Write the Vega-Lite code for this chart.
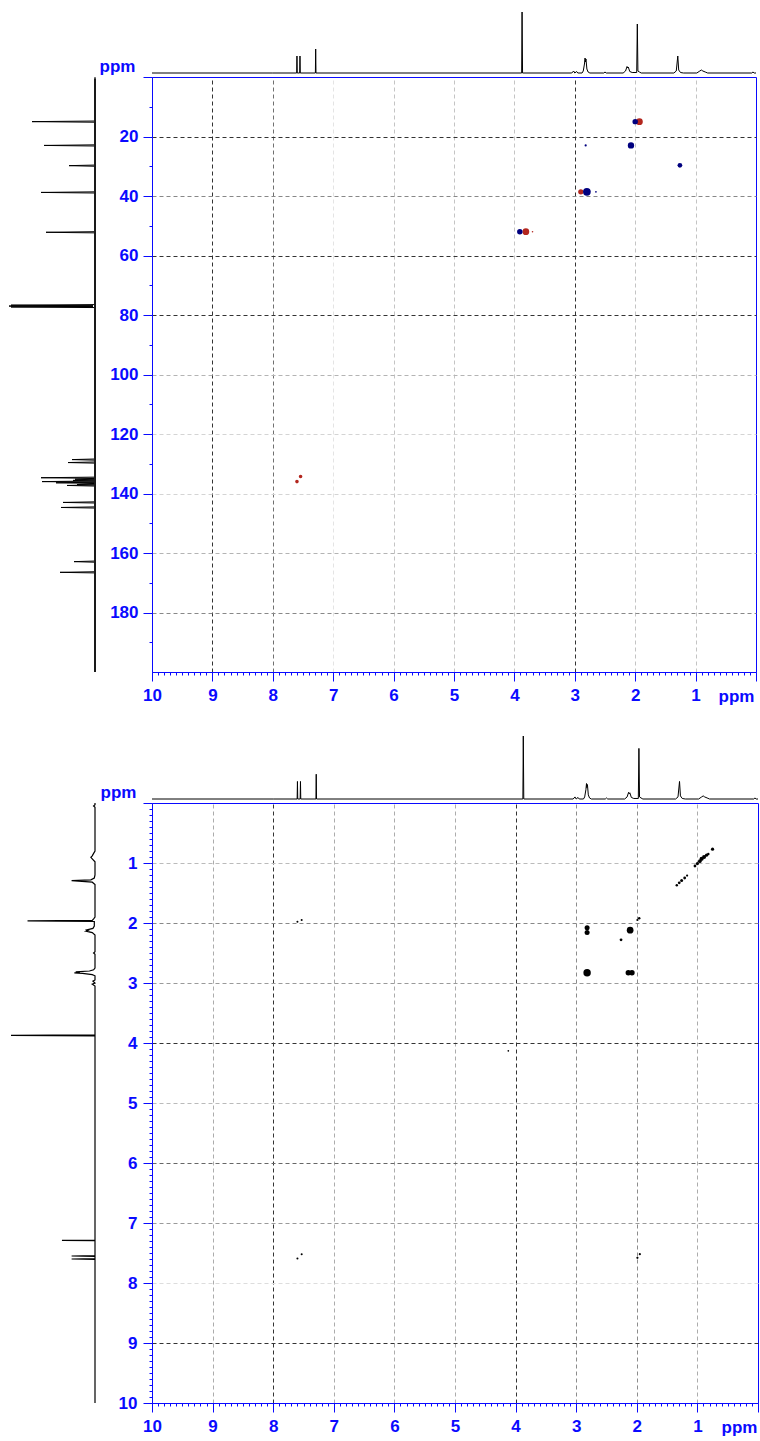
{
  "$schema": "https://vega.github.io/schema/vega-lite/v6.json",
  "padding": {"left": 6, "top": 9, "right": 0, "bottom": 0},
  "background": "white",
  "datasets": {
    "h1": [
      {"ppm": 10, "i": 0}, {"ppm": 8.0, "i": 0}, {"ppm": 7.605, "i": 0}, {"ppm": 7.6, "i": 17}, {"ppm": 7.595, "i": 0},
      {"ppm": 7.555, "i": 0}, {"ppm": 7.55, "i": 17}, {"ppm": 7.545, "i": 0}, {"ppm": 7.295, "i": 0}, {"ppm": 7.29, "i": 24},
      {"ppm": 7.285, "i": 0}, {"ppm": 5.0, "i": 0}, {"ppm": 3.88, "i": 0}, {"ppm": 3.873, "i": 61}, {"ppm": 3.865, "i": 0},
      {"ppm": 3.05, "i": 0}, {"ppm": 3.02, "i": 2}, {"ppm": 3.0, "i": 0}, {"ppm": 2.97, "i": 1.5}, {"ppm": 2.95, "i": 0},
      {"ppm": 2.88, "i": 0}, {"ppm": 2.86, "i": 2}, {"ppm": 2.84, "i": 9}, {"ppm": 2.83, "i": 15}, {"ppm": 2.825, "i": 11},
      {"ppm": 2.815, "i": 14}, {"ppm": 2.8, "i": 4}, {"ppm": 2.78, "i": 1}, {"ppm": 2.75, "i": 0}, {"ppm": 2.52, "i": 0},
      {"ppm": 2.5, "i": 1}, {"ppm": 2.48, "i": 0}, {"ppm": 2.2, "i": 0}, {"ppm": 2.16, "i": 2}, {"ppm": 2.135, "i": 6.5},
      {"ppm": 2.125, "i": 5}, {"ppm": 2.115, "i": 6}, {"ppm": 2.09, "i": 1.5}, {"ppm": 2.05, "i": 0.5}, {"ppm": 1.975, "i": 0.5},
      {"ppm": 1.965, "i": 49}, {"ppm": 1.955, "i": 2}, {"ppm": 1.93, "i": 1}, {"ppm": 1.9, "i": 0}, {"ppm": 1.36, "i": 0},
      {"ppm": 1.32, "i": 2}, {"ppm": 1.295, "i": 17}, {"ppm": 1.28, "i": 3}, {"ppm": 1.25, "i": 0.5}, {"ppm": 1.2, "i": 0},
      {"ppm": 0.98, "i": 0}, {"ppm": 0.93, "i": 2}, {"ppm": 0.905, "i": 3}, {"ppm": 0.88, "i": 2}, {"ppm": 0.84, "i": 1},
      {"ppm": 0.8, "i": 0}, {"ppm": 0.07, "i": 0}, {"ppm": 0.05, "i": 1}, {"ppm": 0.03, "i": 0}, {"ppm": 0, "i": 0}
    ],
    "c13": [
      {"ppm": 0, "i": 0}, {"ppm": 14.8, "i": 0}, {"ppm": 15.0, "i": 63}, {"ppm": 15.2, "i": 0},
      {"ppm": 22.8, "i": 0}, {"ppm": 23.0, "i": 51}, {"ppm": 23.2, "i": 0},
      {"ppm": 29.6, "i": 0}, {"ppm": 29.8, "i": 26}, {"ppm": 30.0, "i": 0},
      {"ppm": 38.6, "i": 0}, {"ppm": 38.8, "i": 54}, {"ppm": 39.0, "i": 0},
      {"ppm": 52.0, "i": 0}, {"ppm": 52.2, "i": 49}, {"ppm": 52.4, "i": 0},
      {"ppm": 76.5, "i": 0}, {"ppm": 76.7, "i": 84}, {"ppm": 76.9, "i": 2}, {"ppm": 77.0, "i": 86}, {"ppm": 77.2, "i": 2}, {"ppm": 77.3, "i": 84}, {"ppm": 77.5, "i": 0},
      {"ppm": 128.4, "i": 0}, {"ppm": 128.6, "i": 23}, {"ppm": 128.8, "i": 0},
      {"ppm": 129.4, "i": 0}, {"ppm": 129.6, "i": 27}, {"ppm": 129.8, "i": 0},
      {"ppm": 134.5, "i": 0}, {"ppm": 134.7, "i": 54}, {"ppm": 134.9, "i": 0}, {"ppm": 135.2, "i": 20}, {"ppm": 135.4, "i": 0},
      {"ppm": 135.6, "i": 22}, {"ppm": 135.8, "i": 0}, {"ppm": 136.0, "i": 53}, {"ppm": 136.2, "i": 0}, {"ppm": 136.4, "i": 39},
      {"ppm": 136.6, "i": 0}, {"ppm": 137.0, "i": 18}, {"ppm": 137.1, "i": 0}, {"ppm": 137.3, "i": 28}, {"ppm": 137.5, "i": 0},
      {"ppm": 142.8, "i": 0}, {"ppm": 143.0, "i": 32}, {"ppm": 143.2, "i": 0},
      {"ppm": 144.5, "i": 0}, {"ppm": 144.7, "i": 34}, {"ppm": 144.9, "i": 0},
      {"ppm": 162.7, "i": 0}, {"ppm": 162.9, "i": 21}, {"ppm": 163.1, "i": 0},
      {"ppm": 166.3, "i": 0}, {"ppm": 166.5, "i": 35}, {"ppm": 166.7, "i": 0},
      {"ppm": 200, "i": 0}
    ],
    "hsqc": [
      {"h": 1.93, "c": 15.0, "sign": "-", "vol": 75},
      {"h": 2.9, "c": 38.6, "sign": "-", "vol": 47},
      {"h": 3.81, "c": 52.0, "sign": "-", "vol": 75},
      {"h": 3.7, "c": 52.0, "sign": "-", "vol": 4},
      {"h": 7.6, "c": 136.0, "sign": "-", "vol": 22},
      {"h": 7.54, "c": 134.3, "sign": "-", "vol": 22},
      {"h": 2.0, "c": 15.0, "sign": "+", "vol": 50},
      {"h": 2.07, "c": 23.0, "sign": "+", "vol": 67},
      {"h": 2.82, "c": 23.0, "sign": "+", "vol": 8},
      {"h": 1.26, "c": 29.7, "sign": "+", "vol": 37},
      {"h": 2.8, "c": 38.6, "sign": "+", "vol": 100},
      {"h": 2.65, "c": 38.6, "sign": "+", "vol": 5},
      {"h": 3.91, "c": 52.0, "sign": "+", "vol": 50}
    ],
    "cosy": [
      {"h": 0.75, "v": 0.77, "vol": 17}, {"h": 1.04, "v": 1.05, "vol": 13}, {"h": 1.0, "v": 1.01, "vol": 17},
      {"h": 0.96, "v": 0.97, "vol": 23}, {"h": 0.93, "v": 0.93, "vol": 30}, {"h": 0.89, "v": 0.9, "vol": 27},
      {"h": 0.85, "v": 0.87, "vol": 17}, {"h": 0.82, "v": 0.85, "vol": 10}, {"h": 1.34, "v": 1.37, "vol": 10},
      {"h": 1.3, "v": 1.33, "vol": 13}, {"h": 1.26, "v": 1.29, "vol": 15}, {"h": 1.21, "v": 1.25, "vol": 13},
      {"h": 1.17, "v": 1.21, "vol": 8}, {"h": 1.99, "v": 1.95, "vol": 8}, {"h": 1.96, "v": 1.92, "vol": 10},
      {"h": 2.26, "v": 2.28, "vol": 13}, {"h": 2.82, "v": 2.08, "vol": 42}, {"h": 2.82, "v": 2.16, "vol": 42},
      {"h": 2.11, "v": 2.12, "vol": 75}, {"h": 2.82, "v": 2.83, "vol": 92}, {"h": 2.14, "v": 2.83, "vol": 50},
      {"h": 2.08, "v": 2.83, "vol": 50}, {"h": 7.6, "v": 1.98, "vol": 7}, {"h": 7.53, "v": 1.95, "vol": 7},
      {"h": 7.6, "v": 7.59, "vol": 7}, {"h": 7.53, "v": 7.52, "vol": 7}, {"h": 1.99, "v": 7.58, "vol": 8},
      {"h": 1.95, "v": 7.52, "vol": 8}, {"h": 4.12, "v": 4.13, "vol": 5}
    ]
  },
  "vconcat": [
    {
      "width": 604,
      "height": 595,
      "layer": [
        {
          "data": {"name": "hsqc"},
          "mark": {"type": "point", "filled": true, "opacity": 1, "shape": "circle"},
          "encoding": {
            "x": {
              "field": "h", "type": "quantitative",
              "scale": {"domain": [10, 0], "nice": false, "zero": false},
              "axis": {
                "values": [0,0.1,0.2,0.3,0.4,0.5,0.6,0.7,0.8,0.9,1,1.1,1.2,1.3,1.4,1.5,1.6,1.7,1.8,1.9,2,2.1,2.2,2.3,2.4,2.5,2.6,2.7,2.8,2.9,3,3.1,3.2,3.3,3.4,3.5,3.6,3.7,3.8,3.9,4,4.1,4.2,4.3,4.4,4.5,4.6,4.7,4.8,4.9,5,5.1,5.2,5.3,5.4,5.5,5.6,5.7,5.8,5.9,6,6.1,6.2,6.3,6.4,6.5,6.6,6.7,6.8,6.9,7,7.1,7.2,7.3,7.4,7.5,7.6,7.7,7.8,7.9,8,8.1,8.2,8.3,8.4,8.5,8.6,8.7,8.8,8.9,9,9.1,9.2,9.3,9.4,9.5,9.6,9.7,9.8,9.9,10],
                "labelExpr": "datum.value % 1 == 0 && datum.value > 0 ? format(datum.value, 'd') : ''",
                "tickSize": {"condition": {"test": "datum.value % 1 == 0", "value": 9}, "value": 3},
                "grid": true,
                "gridOpacity": {"condition": {"test": "datum.value % 1 != 0 || datum.value == 0 || datum.value == 10", "value": 0}, "value": 1},
                "gridColor": {"condition": [
                  {"test": "indexof([9, 3], datum.value) >= 0", "value": "#333333"},
                  {"test": "datum.value == 8", "value": "#707070"},
                  {"test": "datum.value == 7", "value": "#e4e4e4"}
                ], "value": "#c4c4c4"},
                "labelPadding": 6,
                "title": "ppm", "titleX": 584, "titleY": 24, "titleAlign": "center", "titleBaseline": "middle"
              }
            },
            "y": {
              "field": "c", "type": "quantitative",
              "scale": {"domain": [0, 200], "nice": false, "zero": false, "reverse": true},
              "axis": {
                "values": [0,10,20,30,40,50,60,70,80,90,100,110,120,130,140,150,160,170,180,190],
                "labelExpr": "datum.value % 20 == 0 && datum.value > 0 ? format(datum.value, 'd') : ''",
                "tickSize": {"condition": {"test": "datum.value % 20 == 0", "value": 9}, "value": 3},
                "grid": true,
                "gridOpacity": {"condition": {"test": "datum.value % 20 != 0 || datum.value == 0", "value": 0}, "value": 1},
                "gridColor": {"condition": [
                  {"test": "indexof([20, 60, 80], datum.value) >= 0", "value": "#333333"},
                  {"test": "indexof([40, 180], datum.value) >= 0", "value": "#888888"},
                  {"test": "indexof([100, 160], datum.value) >= 0", "value": "#b4b4b4"}
                ], "value": "#d4d4d4"},
                "labelPadding": 5,
                "title": "ppm", "titleAngle": 0, "titleX": -35, "titleY": -11, "titleAlign": "center", "titleBaseline": "middle"
              }
            },
            "color": {"field": "sign", "type": "nominal", "scale": {"domain": ["+", "-"], "range": ["#00007f", "#b3261e"]}, "legend": null},
            "size": {"field": "vol", "type": "quantitative", "scale": {"domain": [0, 100], "range": [0, 60], "zero": true}, "legend": null}
          }
        },
        {
          "data": {"name": "h1"},
          "mark": {"type": "line", "color": "black", "strokeWidth": 1},
          "encoding": {
            "x": {"field": "ppm", "type": "quantitative", "scale": {"domain": [10, 0], "nice": false, "zero": false}, "axis": null},
            "y": {"field": "i", "type": "quantitative", "scale": {"domain": [0, 61], "range": [-4, -65], "nice": false, "zero": false}, "axis": null},
            "order": {"field": "ppm", "type": "quantitative"}
          }
        },
        {
          "data": {"name": "c13"},
          "mark": {"type": "line", "color": "black", "strokeWidth": 1},
          "encoding": {
            "x": {"field": "i", "type": "quantitative", "scale": {"domain": [0, 86], "range": [-57, -143], "nice": false, "zero": false}, "axis": null},
            "y": {"field": "ppm", "type": "quantitative", "scale": {"domain": [0, 200], "nice": false, "zero": false, "reverse": true}, "axis": null},
            "order": {"field": "ppm", "type": "quantitative"}
          }
        },
        {
          "data": {"values": [{}]},
          "mark": {"type": "rule", "color": "#1a1a1a", "strokeWidth": 2},
          "encoding": {
            "x": {"datum": 0, "type": "quantitative", "scale": {"domain": [0, 86], "range": [-57, -143], "nice": false, "zero": false}, "axis": null},
            "y": {"datum": 0.5, "type": "quantitative", "scale": {"domain": [0, 200], "nice": false, "zero": false, "reverse": true}, "axis": null},
            "y2": {"datum": 200}
          }
        }
      ],
      "resolve": {"scale": {"x": "independent", "y": "independent"}, "axis": {"x": "independent", "y": "independent"}}
    },
    {
      "width": 606,
      "height": 600,
      "layer": [
        {
          "data": {"name": "cosy"},
          "mark": {"type": "point", "filled": true, "opacity": 1, "shape": "circle", "color": "black"},
          "encoding": {
            "x": {
              "field": "h", "type": "quantitative",
              "scale": {"domain": [10, 0], "nice": false, "zero": false},
              "axis": {
                "values": [0,0.1,0.2,0.3,0.4,0.5,0.6,0.7,0.8,0.9,1,1.1,1.2,1.3,1.4,1.5,1.6,1.7,1.8,1.9,2,2.1,2.2,2.3,2.4,2.5,2.6,2.7,2.8,2.9,3,3.1,3.2,3.3,3.4,3.5,3.6,3.7,3.8,3.9,4,4.1,4.2,4.3,4.4,4.5,4.6,4.7,4.8,4.9,5,5.1,5.2,5.3,5.4,5.5,5.6,5.7,5.8,5.9,6,6.1,6.2,6.3,6.4,6.5,6.6,6.7,6.8,6.9,7,7.1,7.2,7.3,7.4,7.5,7.6,7.7,7.8,7.9,8,8.1,8.2,8.3,8.4,8.5,8.6,8.7,8.8,8.9,9,9.1,9.2,9.3,9.4,9.5,9.6,9.7,9.8,9.9,10],
                "labelExpr": "datum.value % 1 == 0 && datum.value > 0 ? format(datum.value, 'd') : ''",
                "tickSize": {"condition": {"test": "datum.value % 1 == 0", "value": 9}, "value": 3},
                "grid": true,
                "gridOpacity": {"condition": {"test": "datum.value % 1 != 0 || datum.value == 0 || datum.value == 10", "value": 0}, "value": 1},
                "gridColor": {"condition": [
                  {"test": "indexof([8, 4], datum.value) >= 0", "value": "#333333"},
                  {"test": "indexof([3, 2], datum.value) >= 0", "value": "#8c8c8c"}
                ], "value": "#acacac"},
                "labelPadding": 6,
                "title": "ppm", "titleX": 587, "titleY": 24, "titleAlign": "center", "titleBaseline": "middle"
              }
            },
            "y": {
              "field": "v", "type": "quantitative",
              "scale": {"domain": [0, 10], "nice": false, "zero": false, "reverse": true},
              "axis": {
                "values": [0,0.1,0.2,0.3,0.4,0.5,0.6,0.7,0.8,0.9,1,1.1,1.2,1.3,1.4,1.5,1.6,1.7,1.8,1.9,2,2.1,2.2,2.3,2.4,2.5,2.6,2.7,2.8,2.9,3,3.1,3.2,3.3,3.4,3.5,3.6,3.7,3.8,3.9,4,4.1,4.2,4.3,4.4,4.5,4.6,4.7,4.8,4.9,5,5.1,5.2,5.3,5.4,5.5,5.6,5.7,5.8,5.9,6,6.1,6.2,6.3,6.4,6.5,6.6,6.7,6.8,6.9,7,7.1,7.2,7.3,7.4,7.5,7.6,7.7,7.8,7.9,8,8.1,8.2,8.3,8.4,8.5,8.6,8.7,8.8,8.9,9,9.1,9.2,9.3,9.4,9.5,9.6,9.7,9.8,9.9,10],
                "labelExpr": "datum.value % 1 == 0 && datum.value > 0 ? format(datum.value, 'd') : ''",
                "tickSize": {"condition": {"test": "datum.value % 1 == 0", "value": 9}, "value": 3},
                "grid": true,
                "gridOpacity": {"condition": {"test": "datum.value % 1 != 0 || datum.value == 0 || datum.value == 10", "value": 0}, "value": 1},
                "gridColor": {"condition": [
                  {"test": "indexof([4, 9], datum.value) >= 0", "value": "#333333"},
                  {"test": "datum.value == 6", "value": "#666666"},
                  {"test": "datum.value == 2", "value": "#888888"},
                  {"test": "indexof([3, 7], datum.value) >= 0", "value": "#9a9a9a"},
                  {"test": "datum.value == 8", "value": "#dddddd"}
                ], "value": "#bbbbbb"},
                "labelPadding": 6,
                "title": "ppm", "titleAngle": 0, "titleX": -34, "titleY": -11, "titleAlign": "center", "titleBaseline": "middle"
              }
            },
            "size": {"field": "vol", "type": "quantitative", "scale": {"domain": [0, 100], "range": [0, 60], "zero": true}, "legend": null}
          }
        },
        {
          "data": {"name": "h1"},
          "mark": {"type": "line", "color": "black", "strokeWidth": 1},
          "encoding": {
            "x": {"field": "ppm", "type": "quantitative", "scale": {"domain": [10, 0], "nice": false, "zero": false}, "axis": null},
            "y": {"field": "i", "type": "quantitative", "scale": {"domain": [0, 61], "range": [-4, -67], "nice": false, "zero": false}, "axis": null},
            "order": {"field": "ppm", "type": "quantitative"}
          }
        },
        {
          "data": {"name": "h1"},
          "mark": {"type": "line", "color": "black", "strokeWidth": 1.2},
          "encoding": {
            "x": {"field": "i", "type": "quantitative", "scale": {"domain": [0, 61], "range": [-57, -141], "nice": false, "zero": false}, "axis": null},
            "y": {"field": "ppm", "type": "quantitative", "scale": {"domain": [0, 10], "nice": false, "zero": false, "reverse": true}, "axis": null},
            "order": {"field": "ppm", "type": "quantitative"}
          }
        }
      ],
      "resolve": {"scale": {"x": "independent", "y": "independent"}, "axis": {"x": "independent", "y": "independent"}}
    }
  ],
  "config": {
    "view": {"stroke": "#0a0aff", "strokeWidth": 1},
    "concat": {"spacing": 28},
    "axis": {
      "domainColor": "#0a0aff", "domainWidth": 1,
      "tickColor": "#0a0aff", "tickWidth": 1,
      "labelColor": "#0a0aff", "titleColor": "#0a0aff",
      "labelFont": "Liberation Sans", "labelFontWeight": "bold", "labelFontSize": 17,
      "titleFont": "Liberation Sans", "titleFontWeight": "bold", "titleFontSize": 17,
      "labelOverlap": false, "labelFlush": false, "labelBound": false,
      "gridDash": [4, 3], "gridWidth": 1
    }
  }
}
